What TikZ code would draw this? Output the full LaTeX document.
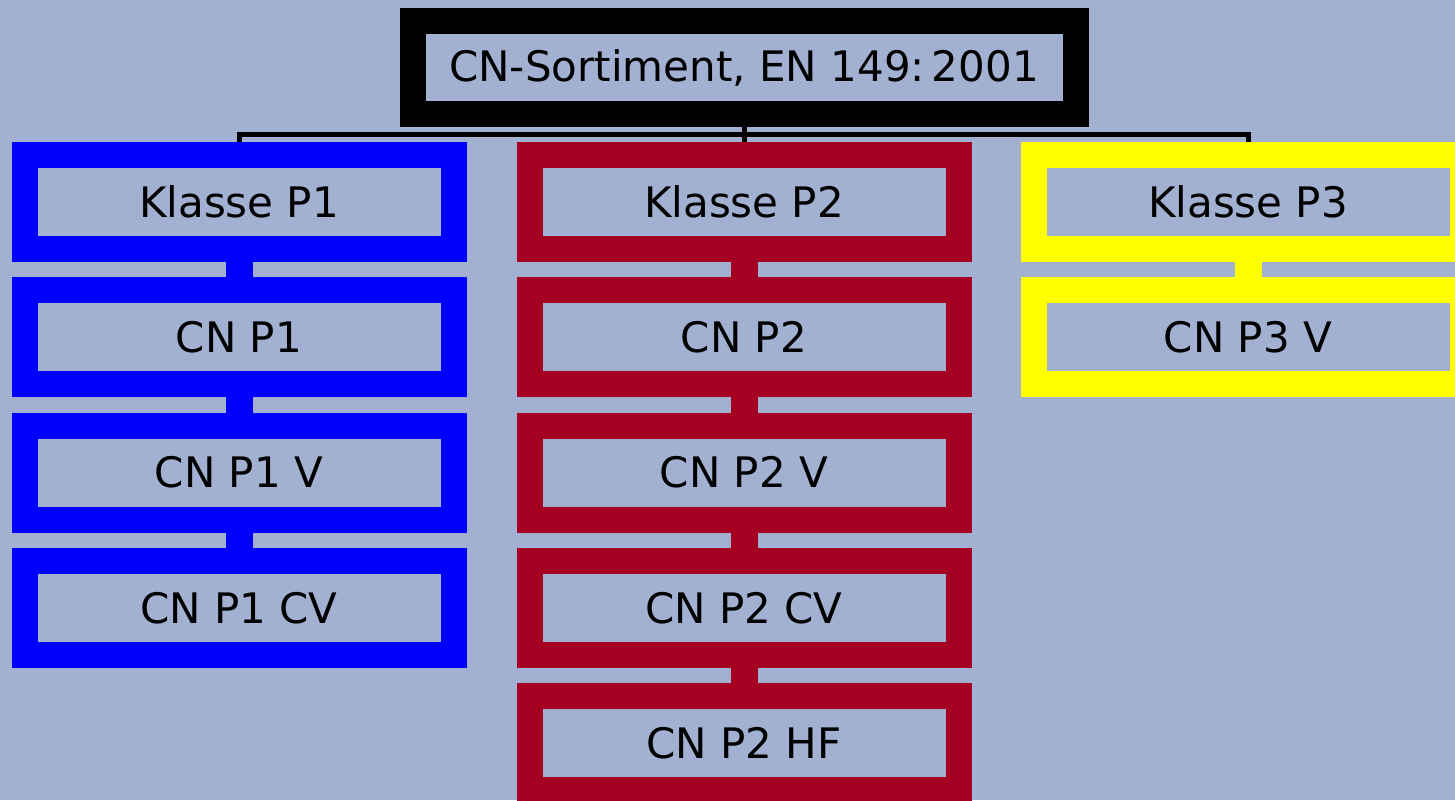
\documentclass[tikz,border=0pt]{standalone}
\usepackage{fontspec}
\setmainfont{DejaVu Sans}
\usetikzlibrary{positioning}

\definecolor{bgcol}{RGB}{162,177,209}
\definecolor{pone}{RGB}{0,0,255}
\definecolor{ptwo}{RGB}{165,0,33}
\definecolor{pthree}{RGB}{255,255,0}

\begin{document}
\begin{tikzpicture}[x=1pt,y=1pt,node distance=15.3pt]

\tikzset{
box/.style={draw,line width=26pt,minimum width=429pt,minimum height=94pt,inner sep=0pt,font=\fontsize{42}{42}\selectfont},
headbox/.style={box,draw=black,minimum width=663pt,minimum height=93pt},
kl1/.style={box,draw=pone},
kl2/.style={box,draw=ptwo},
kl3/.style={box,draw=pthree},
tree/.style={draw=black,line width=5pt,line join=miter},
link/.style={line width=27pt}
}

% Background
\fill[bgcol] (0,0) rectangle (1455,-800);
\useasboundingbox (0,0) rectangle (1455,-800);
\clip (0,0) rectangle (1455,-800);

% Nodes
\node[headbox] (head) at (744,-67.5) {CN-Sortiment, EN 149:\,2001};

\node[kl1] (klasse1) at (239,-202) {Klasse P1};
\node[kl1,below=of klasse1] (cnp1) {CN P1};
\node[kl1,below=of cnp1] (cnp1v) {CN P1 V};
\node[kl1,below=of cnp1v] (cnp1cv) {CN P1 CV};

\node[kl2] (klasse2) at (744,-202) {Klasse P2};
\node[kl2,below=of klasse2] (cnp2) {CN P2};
\node[kl2,below=of cnp2] (cnp2v) {CN P2 V};
\node[kl2,below=of cnp2v] (cnp2cv) {CN P2 CV};
\node[kl2,below=of cnp2cv] (cnp2hf) {CN P2 HF};

\node[kl3] (klasse3) at (1248,-202) {Klasse P3};
\node[kl3,below=of klasse3] (cnp3v) {CN P3 V};

% Tree lines
\draw[tree] (head.south) -- (klasse2.north);
\draw[tree] (klasse1.north) -- ++(0,7.5) -| (klasse3.north);

% Links
\draw[link,pone] (klasse1.south) -- (cnp1.north);
\draw[link,pone] (cnp1.south) -- (cnp1v.north);
\draw[link,pone] (cnp1v.south) -- (cnp1cv.north);

\draw[link,ptwo] (klasse2.south) -- (cnp2.north);
\draw[link,ptwo] (cnp2.south) -- (cnp2v.north);
\draw[link,ptwo] (cnp2v.south) -- (cnp2cv.north);
\draw[link,ptwo] (cnp2cv.south) -- (cnp2hf.north);

\draw[link,pthree] (klasse3.south) -- (cnp3v.north);

\end{tikzpicture}
\end{document}
